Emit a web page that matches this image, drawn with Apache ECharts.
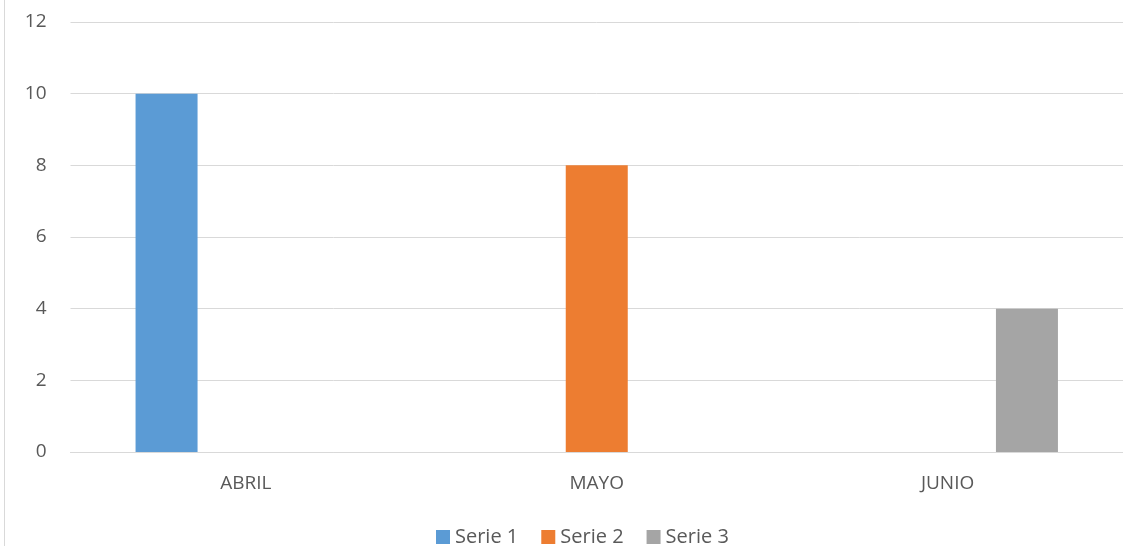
<!DOCTYPE html>
<html>
<head>
<meta charset="utf-8">
<script src="https://cdn.jsdelivr.net/npm/echarts@6/dist/echarts.min.js"></script>
<style>html,body{margin:0;padding:0;background:#fff}#c{width:1123px;height:546px}</style>
</head>
<body>
<div id="c"></div>
<script>
const categories = ['ABRIL', 'MAYO', 'JUNIO'];
const serie1 = [10, null, null];
const serie2 = [null, 8, null];
const serie3 = [null, null, 4];
const yTicks = [0, 2, 4, 6, 8, 10, 12];

const chart = echarts.init(document.getElementById('c'));
const font = '"Open Sans", sans-serif';
const mk = (name, data, color) => ({
  name, type: 'bar', data, barWidth: 62, barGap: '28%',
  itemStyle: { color }
});
chart.setOption({
  animation: false,
  textStyle: { fontFamily: font },
  graphic: [{ type: 'line', shape: { x1: 4.5, y1: 0, x2: 4.5, y2: 546 }, style: { stroke: '#d9d9d9', lineWidth: 1 } }],
  grid: { left: 70.5, top: 22, width: 1060, bottom: 94, containLabel: false },
  legend: {
    left: 431, top: 522, itemWidth: 14, itemHeight: 14, itemGap: 23,
    icon: 'rect',
    textStyle: { color: '#595959', fontSize: 20, fontFamily: font },
    data: ['Serie 1', 'Serie 2', 'Serie 3']
  },
  xAxis: {
    type: 'category', data: categories,
    axisLine: { lineStyle: { color: '#d9d9d9' } },
    axisTick: { show: false },
    axisLabel: { color: '#595959', fontSize: 19, margin: 22, fontFamily: font }
  },
  yAxis: {
    type: 'value', min: yTicks[0], max: yTicks[yTicks.length - 1], interval: 2,
    axisLine: { show: false }, axisTick: { show: false },
    splitLine: { lineStyle: { color: '#d9d9d9' } },
    axisLabel: { color: '#595959', fontSize: 19, margin: 24, fontFamily: font }
  },
  series: [
    mk('Serie 1', serie1, '#5b9bd5'),
    mk('Serie 2', serie2, '#ed7d31'),
    mk('Serie 3', serie3, '#a5a5a5')
  ]
});
</script>
</body>
</html>
